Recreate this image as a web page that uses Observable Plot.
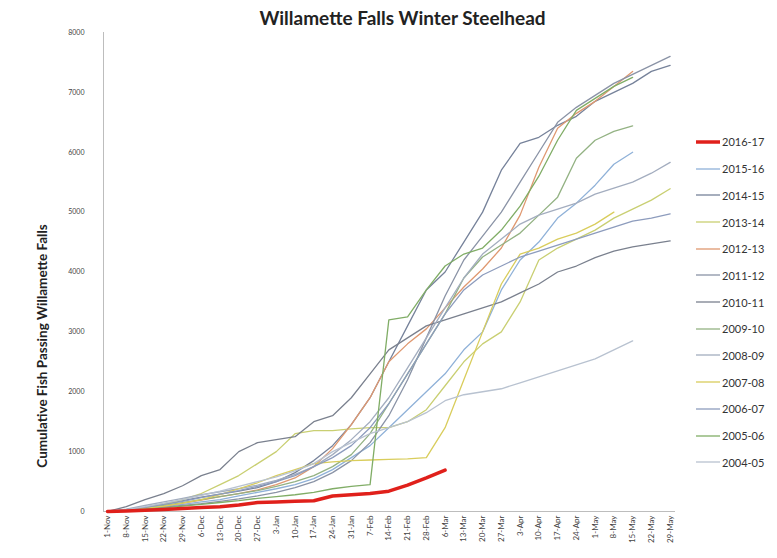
<!DOCTYPE html>
<html><head><meta charset="utf-8">
<script src="https://cdn.jsdelivr.net/npm/d3@7"></script>
<script src="https://cdn.jsdelivr.net/npm/@observablehq/plot@0.6"></script>
<style>
body{margin:0;background:#fff;width:777px;height:558px;overflow:hidden;position:relative;font-family:Lato,sans-serif}
#chart{position:absolute;left:0;top:0}
#title{position:absolute;top:7px;left:14px;width:777px;text-align:center;font-weight:700;font-size:19px;color:#222;line-height:22px}
#ylab{position:absolute;left:42px;top:346px;transform:translate(-50%,-50%) rotate(-90deg);font-weight:700;font-size:13.5px;white-space:nowrap;color:#222}
#legend{position:absolute;left:695px;top:128.6px}
.item{height:26.7px;display:flex;align-items:center;font-size:11px;color:#333;white-space:nowrap}
.item svg{margin-right:1px}
</style></head><body>
<div id="chart"></div>
<div id="title">Willamette Falls Winter Steelhead</div>
<div id="ylab">Cumulative Fish Passing Willamette Falls</div>
<div id="legend"></div>
<script>
// weekly dates (x categories / tick labels), leap-year axis as in the source
const weeks = ["2015-11-01","2015-11-08","2015-11-15","2015-11-22","2015-11-29","2015-12-06","2015-12-13","2015-12-20","2015-12-27","2016-01-03","2016-01-10","2016-01-17","2016-01-24","2016-01-31","2016-02-07","2016-02-14","2016-02-21","2016-02-28","2016-03-06","2016-03-13","2016-03-20","2016-03-27","2016-04-03","2016-04-10","2016-04-17","2016-04-24","2016-05-01","2016-05-08","2016-05-15","2016-05-22","2016-05-29"];
const yTicks = [0,1000,2000,3000,4000,5000,6000,7000,8000];

const seasons = ["2016-17","2015-16","2014-15","2013-14","2012-13","2011-12","2010-11","2009-10","2008-09","2007-08","2006-07","2005-06","2004-05"];
const colors  = ["#e0201b","#8fb1d8","#76829a","#c9cf72","#df9870","#8a93a6","#7a808e","#93b283","#a3adbf","#d9cd5c","#8d9cbd","#80ad66","#b8c2d0"];

const s2016_17 = [0,10,20,35,50,65,80,110,150,160,170,180,260,280,300,340,440,560,690,null,null,null,null,null,null,null,null,null,null,null,null];
const s2015_16 = [0,20,40,80,120,160,200,260,320,380,450,550,700,900,1100,1400,1700,2000,2300,2700,3000,3700,4200,4500,4900,5150,5450,5800,6000,null,null];
const s2014_15 = [0,30,70,120,180,240,290,340,400,500,650,850,1100,1450,1900,2500,3100,3700,4000,4500,5000,5700,6150,6250,6450,6600,6850,7000,7150,7350,7450];
const s2013_14 = [0,20,60,120,200,300,450,600,800,1000,1300,1350,1350,1380,1400,1400,1500,1700,2100,2500,2800,3000,3500,4200,4400,4550,4700,4900,5050,5200,5390];
const s2012_13 = [0,20,50,90,140,190,250,300,360,450,560,750,1050,1450,1900,2500,2800,3050,3400,3750,4050,4400,4950,5750,6400,6650,6850,7100,7350,null,null];
const s2011_12 = [0,20,40,70,100,130,170,210,260,320,400,500,650,850,1150,1600,2200,2900,3600,4200,4600,5000,5500,6000,6500,6750,6950,7150,7300,7450,7600];
const s2010_11 = [0,80,200,300,430,600,700,1000,1150,1200,1250,1500,1600,1900,2300,2700,2900,3100,3200,3300,3400,3500,3650,3800,4000,4100,4240,4350,4420,4470,4520];
const s2009_10 = [0,30,60,100,150,200,250,300,350,420,500,600,750,950,1300,1800,2300,2800,3300,3900,4250,4450,4650,4950,5250,5900,6200,6350,6440,null,null];
const s2008_09 = [0,40,100,160,220,280,330,380,440,520,620,750,950,1200,1500,1900,2400,2900,3400,3900,4300,4550,4800,4950,5050,5150,5300,5400,5500,5650,5830];
const s2007_08 = [0,20,50,90,140,200,280,380,480,600,700,800,830,850,860,870,880,900,1400,2200,3000,3800,4300,4400,4550,4650,4800,5000,null,null,null];
const s2006_07 = [0,30,70,120,170,230,290,350,420,500,600,750,900,1100,1400,1800,2300,2800,3300,3700,3950,4100,4250,4350,4450,4550,4650,4750,4850,4900,4970];
const s2005_06 = [0,20,40,60,90,120,150,180,220,250,280,320,380,420,450,3200,3250,3700,4100,4300,4400,4700,5100,5600,6200,6700,6900,7100,7250,null,null];
const s2004_05 = [0,30,80,140,200,270,340,420,500,580,680,800,1000,1150,1300,1400,1500,1650,1850,1950,2000,2050,2150,2250,2350,2450,2550,2700,2850,null,null];

const seriesValues = [s2016_17,s2015_16,s2014_15,s2013_14,s2012_13,s2011_12,s2010_11,s2009_10,s2008_09,s2007_08,s2006_07,s2005_06,s2004_05];

const dates = weeks.map(d => new Date(d + "T00:00:00Z"));
const rows = [];
seasons.forEach((s, k) => {
  seriesValues[k].forEach((v, i) => { if (v != null) rows.push({season: s, date: dates[i], value: v}); });
});
const others = rows.filter(r => r.season !== "2016-17");
const current = rows.filter(r => r.season === "2016-17");
const xDomain = [new Date("2015-10-30T12:00:00Z"), new Date("2016-05-31T00:00:00Z")];

const chart = Plot.plot({
  width: 690, height: 558,
  marginTop: 32, marginBottom: 47, marginLeft: 103, marginRight: 15,
  style: {fontFamily: "Lato, sans-serif", fontSize: "8px", color: "#444", background: "transparent", overflow: "visible"},
  x: {type: "utc", domain: xDomain, ticks: dates, tickFormat: d3.utcFormat("%-d-%b"), tickRotate: -90, tickSize: 0, tickPadding: 4, label: null},
  y: {domain: [0, 8000], ticks: yTicks, tickFormat: d => String(d), tickSize: 0, tickPadding: 19, label: null},
  color: {domain: seasons, range: colors},
  marks: [
    Plot.ruleY([0], {stroke: "#bdbdbd", strokeWidth: 1}),
    Plot.ruleX([xDomain[0]], {stroke: "#bdbdbd", strokeWidth: 1}),
    Plot.line(others, {x: "date", y: "value", z: "season", stroke: "season", strokeWidth: 1.3}),
    Plot.line(current, {x: "date", y: "value", stroke: "season", strokeWidth: 3.5})
  ]
});
chart.querySelectorAll("g[aria-label='y-axis tick label'] text, g[aria-label='y-axis'] text").forEach(t => t.setAttribute("font-size", "7px"));
document.getElementById("chart").appendChild(chart);

const leg = document.getElementById("legend");
seasons.forEach((s, k) => {
  const w = k === 0 ? 3.5 : 1.3;
  const div = document.createElement("div");
  div.className = "item";
  div.innerHTML = `<svg width="26" height="6"><line x1="1" x2="25" y1="3" y2="3" stroke="${colors[k]}" stroke-width="${w}"/></svg><span>${s}</span>`;
  leg.appendChild(div);
});
</script>
</body></html>
